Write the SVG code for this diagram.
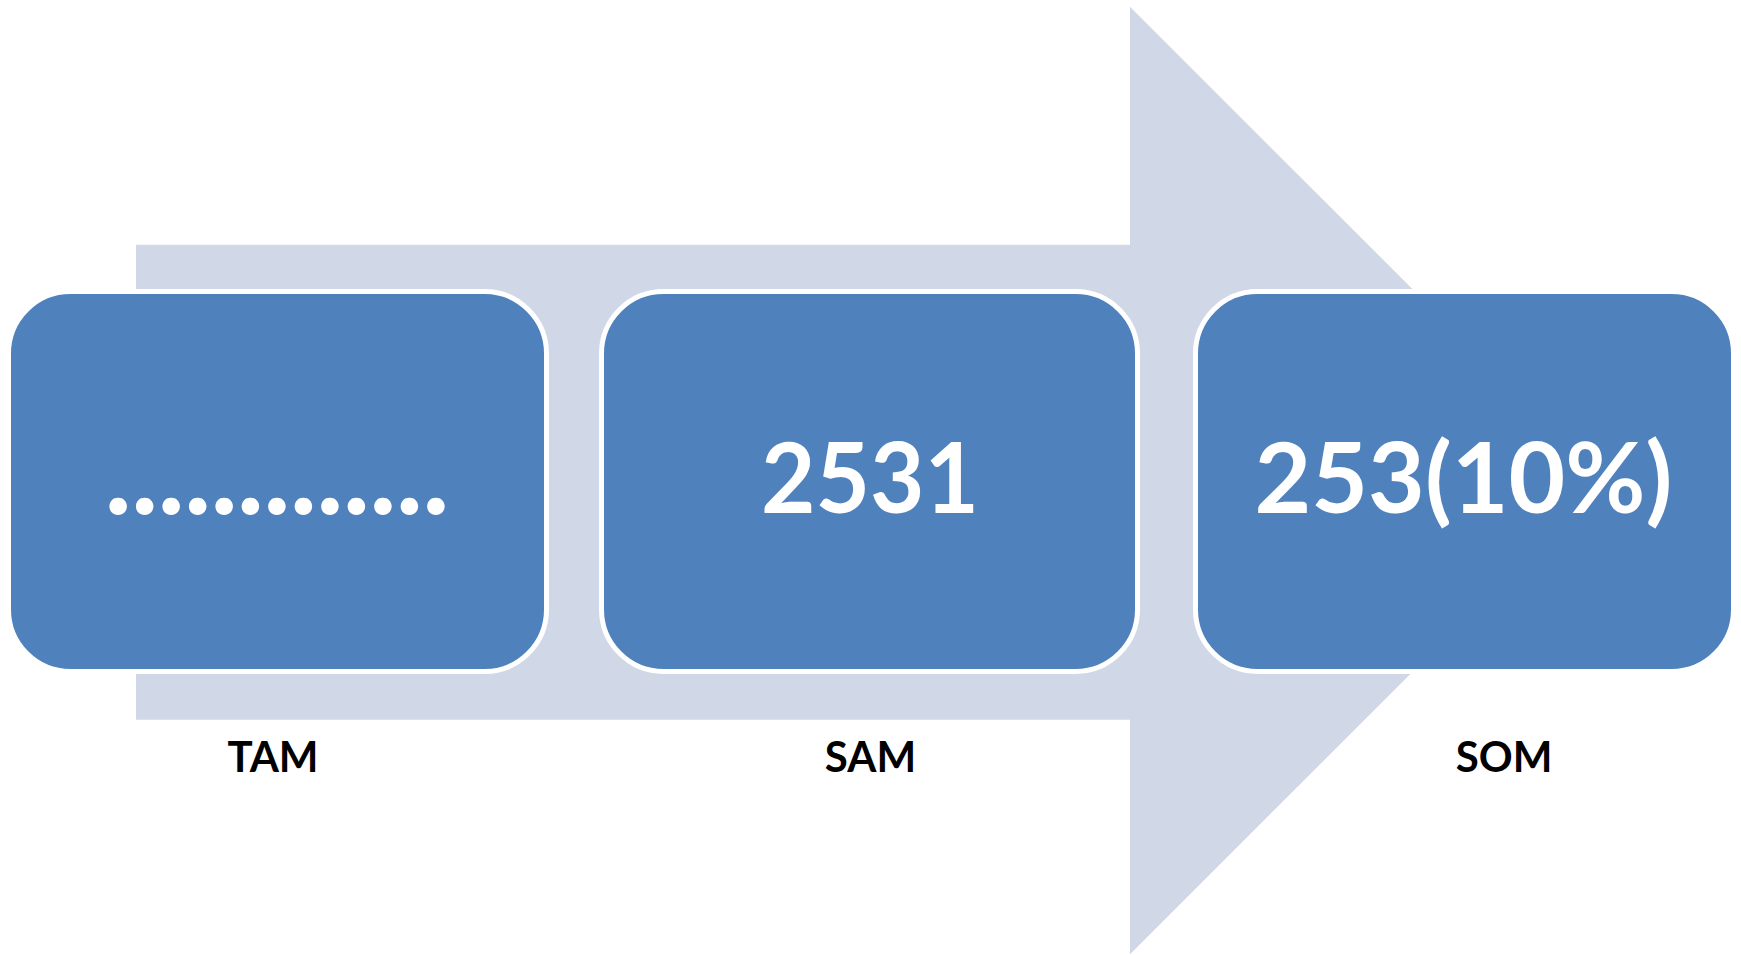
<svg xmlns="http://www.w3.org/2000/svg" width="1741" height="955" viewBox="0 0 1741 955">
<style>
.box{fill:#4F81BD;stroke:#FFFFFF;stroke-width:5}
.big{font-family:Lato,"Open Sans","Liberation Sans",sans-serif;font-weight:bold;fill:#FFFFFF;text-anchor:middle}
.lbl{font-family:Lato,"Open Sans","Liberation Sans",sans-serif;font-weight:bold;fill:#000000;font-size:42px;text-anchor:middle}
</style>
<rect width="1741" height="955" fill="#FFFFFF"/>
<g id="connectors">
<polygon points="136,244.7 1130,244.7 1130,6.7 1604,480.5 1130,954.3 1130,719.7 136,719.7" fill="#D0D8E8"/>
</g>
<g id="tam">
<rect class="box" x="8.5" y="291.5" width="538" height="380" rx="62" ry="62"/>
<text class="big" x="277" y="514" font-size="115" textLength="345" lengthAdjust="spacing">.............</text>
<text class="lbl" x="273" y="772">TAM</text>
</g>
<g id="sam">
<rect class="box" x="601.5" y="291.5" width="536" height="380" rx="62" ry="62"/>
<text class="big" x="870" y="513" font-size="98" textLength="218" lengthAdjust="spacingAndGlyphs">2531</text>
<text class="lbl" x="870.5" y="772">SAM</text>
</g>
<g id="som">
<rect class="box" x="1195.5" y="291.5" width="538" height="380" rx="62" ry="62"/>
<text class="big" x="1463.5" y="513" font-size="98" textLength="418" lengthAdjust="spacingAndGlyphs">253(10%)</text>
<text class="lbl" x="1504" y="772">SOM</text>
</g>
</svg>
